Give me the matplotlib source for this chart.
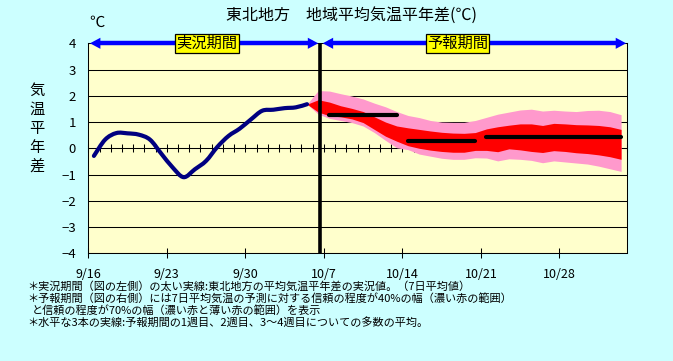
import numpy as np
import matplotlib
matplotlib.use("Agg")
import matplotlib.pyplot as plt
from matplotlib.path import Path
from matplotlib.patches import PathPatch

plt.rcParams['font.family'] = ['Noto Sans CJK JP', 'DejaVu Sans']

# --- data (anomaly in degC, x = days since 9/16) ---
tick_days = [0, 7, 14, 21, 28, 35, 42]
tick_labels = ['9/16', '9/23', '9/30', '10/7', '10/14', '10/21', '10/28']

# observed 7-day running mean anomaly, 9/16 .. 10/5
obs = [-0.29, 0.33, 0.58, 0.57, 0.52, 0.33, -0.20, -0.72, -1.10, -0.80,
       -0.48, 0.05, 0.47, 0.75, 1.10, 1.43, 1.47, 1.53, 1.56, 1.68]

# forecast bands, 10/5 .. 11/2
pink_hi = [1.68, 2.20, 2.18, 2.08, 1.99, 1.88, 1.72, 1.58, 1.40, 1.25,
           1.17, 1.06, 1.00, 0.99, 0.99, 1.06, 1.18, 1.30, 1.38, 1.46,
           1.49, 1.42, 1.45, 1.42, 1.40, 1.44, 1.45, 1.40, 1.28]
red_hi = [1.68, 1.85, 1.76, 1.62, 1.52, 1.40, 1.20, 1.00, 0.85, 0.78,
          0.72, 0.66, 0.61, 0.58, 0.57, 0.60, 0.74, 0.82, 0.88, 0.93,
          0.93, 0.87, 0.95, 0.93, 0.90, 0.89, 0.87, 0.82, 0.72]
red_lo = [1.68, 1.38, 1.24, 1.20, 1.12, 0.98, 0.72, 0.46, 0.27, 0.10,
          0.00, -0.07, -0.12, -0.15, -0.15, -0.08, -0.08, -0.13, -0.02, -0.06,
          -0.12, -0.16, -0.09, -0.12, -0.17, -0.20, -0.25, -0.32, -0.42]
pink_lo = [1.68, 1.30, 1.14, 1.06, 0.98, 0.85, 0.60, 0.30, 0.02, -0.05,
           -0.22, -0.30, -0.38, -0.42, -0.42, -0.36, -0.37, -0.48, -0.40, -0.42,
           -0.46, -0.55, -0.48, -0.52, -0.56, -0.60, -0.68, -0.78, -0.88]

# ensemble means: week 1, week 2, weeks 3-4
mean_start = [21, 28, 35]
mean_end = [27, 34, 47]
mean_val = [1.27, 0.29, 0.43]

n_days = 48
split = 20.7

# colours
bg = '#CCFFFF'
plot_bg = '#FFFFCC'
blue = '#0000FF'
navy = '#000080'

W, H = 673, 361
fig = plt.figure(figsize=(W / 100, H / 100), dpi=100, facecolor=bg)
ax = fig.add_axes([88.3 / W, (H - 253.3) / H, (626.7 - 88.3) / W, (253.3 - 43.3) / H])
ax.set_facecolor(plot_bg)

obs_x = np.arange(len(obs)) + 0.5
fc_x = np.arange(len(obs) - 1, len(obs) - 1 + len(pink_hi)) + 0.5

ax.fill_between(fc_x, pink_lo, pink_hi, color='#FF99CC', lw=0, zorder=2)
ax.fill_between(fc_x, red_lo, red_hi, color='#FF0000', lw=0, zorder=3)
for s, e, v in zip(mean_start, mean_end, mean_val):
    ax.plot([s + 0.5, e + 0.5], [v, v], color='black', lw=3, solid_capstyle='round', zorder=4)

# smoothed line through the observed points (bezier, like a spreadsheet "smooth line")
def smooth_path(x, y, t=1 / 6):
    x = np.asarray(x, float)
    y = np.asarray(y, float)
    verts = [(x[0], y[0])]
    codes = [Path.MOVETO]
    n = len(x)
    for i in range(n - 1):
        i0, i2, i3 = max(i - 1, 0), i + 1, min(i + 2, n - 1)
        c1 = (x[i] + (x[i2] - x[i0]) * t, y[i] + (y[i2] - y[i0]) * t)
        c2 = (x[i2] - (x[i3] - x[i]) * t, y[i2] - (y[i3] - y[i]) * t)
        verts += [c1, c2, (x[i2], y[i2])]
        codes += [Path.CURVE4] * 3
    return Path(verts, codes)

ax.add_patch(PathPatch(smooth_path(obs_x, obs), fill=False, ec=navy, lw=3,
                       capstyle='round', joinstyle='round', zorder=4))
ax.axvline(split, color='black', lw=2.6, zorder=5)

ax.set_xlim(0, n_days)
ax.set_ylim(-4, 4)
ax.set_yticks(range(-4, 5))
ax.grid(axis='y', color='black', lw=0.75, zorder=1)
ax.set_axisbelow(True)
ax.tick_params(axis='y', length=0, pad=9, labelsize=9.5)
ax.set_xticks(tick_days)
ax.set_xticklabels(tick_labels)
ax.tick_params(axis='x', direction='inout', length=7, width=0.75, pad=7, labelsize=9)
for sp in ax.spines.values():
    sp.set_linewidth(0.75)
    sp.set_color('black')

# daily ticks on the zero line
zx = ax.secondary_xaxis(0.5)
zx.set_xticks(range(0, n_days + 1))
zx.tick_params(direction='inout', length=6, width=0.75, labelbottom=False, labeltop=False)
zx.spines['bottom'].set_linewidth(0.75)
zx.spines['top'].set_visible(False)

# period arrows along the top
def period_arrow(x0, x1, label, xlabel):
    ax.plot([x0 + 0.5, x1 - 0.5], [4, 4], color=blue, lw=3.2, solid_capstyle='butt',
            clip_on=False, zorder=6)
    ax.annotate('', xy=(x1, 4), xytext=(x0, 4), annotation_clip=False, zorder=7,
                arrowprops=dict(arrowstyle='<|-|>,head_length=0.75,head_width=0.4',
                                color=blue, lw=0, shrinkA=0, shrinkB=0, mutation_scale=10))
    ax.text(xlabel, 4, label, ha='center', va='center', fontsize=11, zorder=8,
            bbox=dict(boxstyle='square,pad=0.08', fc='#FFFF00', ec='black', lw=0.9))

period_arrow(0.15, split - 0.2, '実況期間', 10.6)
period_arrow(split + 0.2, n_days - 0.05, '予報期間', 32.9)

fig.text(351 / W, 1 - 15 / H, '東北地方\u3000地域平均気温平年差(℃)', ha='center', va='center', fontsize=11.5)
fig.text(97 / W, 1 - 22 / H, '℃', ha='center', va='center', fontsize=11)
fig.text(37 / W, 1 - 128.5 / H, '\n'.join('気温平年差'), ha='center', va='center',
         fontsize=11, linespacing=1.14)

notes = [
    (27, 286.5, '＊実況期間（図の左側）の太い実線:東北地方の平均気温平年差の実況値。（7日平均値）'),
    (27, 298.5, '＊予報期間（図の右側）には7日平均気温の予測に対する信頼の程度が40%の幅（濃い赤の範囲）'),
    (32, 310.5, 'と信頼の程度が70%の幅（濃い赤と薄い赤の範囲）を表示'),
    (27, 322.5, '＊水平な3本の実線:予報期間の1週目、2週目、3～4週目についての多数の平均。'),
]
for x, y, t in notes:
    fig.text(x / W, 1 - y / H, t, ha='left', va='center', fontsize=8)

fig.savefig('out.png', dpi=100, facecolor=bg)
